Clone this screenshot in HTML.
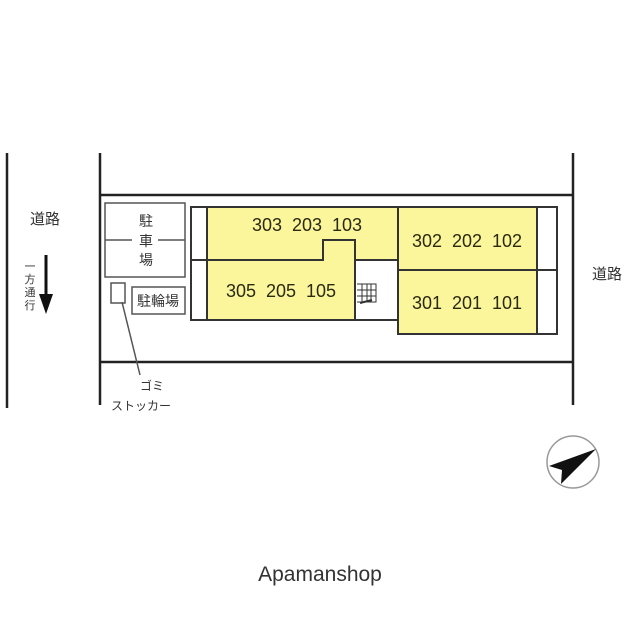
<!DOCTYPE html>
<html><head><meta charset="utf-8"><style>
body{margin:0;background:#fff}
svg{display:block}
text{font-family:"Liberation Sans","Noto Sans CJK JP",sans-serif}
</style></head><body>
<svg width="640" height="640" viewBox="0 0 640 640" xmlns="http://www.w3.org/2000/svg">
<g stroke="#222" stroke-width="2.5" fill="none">
<line x1="7" y1="153" x2="7" y2="408"/>
<line x1="100" y1="153" x2="100" y2="405"/>
<line x1="573" y1="153" x2="573" y2="405"/>
<line x1="100" y1="195" x2="573" y2="195"/>
<line x1="100" y1="362" x2="573" y2="362"/>
</g>
<g stroke="#555" stroke-width="1.5" fill="none">
<rect x="105" y="203" width="80" height="74"/>
<line x1="105" y1="240" x2="132" y2="240"/><line x1="158" y1="240" x2="185" y2="240"/>
<rect x="132" y="287" width="53" height="27"/>
<rect x="111" y="283" width="14" height="20"/>
<line x1="122" y1="302" x2="140" y2="375"/>
</g>
<g stroke="#333" stroke-width="2">
<rect x="191" y="207" width="16" height="113" fill="#fff"/>
<rect x="355" y="260" width="43" height="60" fill="#fff"/>
<rect x="537" y="207" width="20" height="127" fill="#fff"/>
<path d="M207 207H398V260H355V240H323V260H207Z" fill="#fbf59c"/>
<path d="M207 260H323V240H355V320H207Z" fill="#fbf59c"/>
<rect x="398" y="207" width="139" height="63" fill="#fbf59c"/>
<rect x="398" y="270" width="139" height="64" fill="#fbf59c"/>
<line x1="191" y1="260" x2="207" y2="260"/>
<line x1="537" y1="270" x2="557" y2="270"/>
</g>
<g stroke="#333" stroke-width="1" fill="none">
<path d="M357 284H376V302H357M357 290H376M357 296H376M362 284V302M367 284V302M371 284V302"/>
<path d="M360 303L372 300" stroke-width="2"/>
</g>
<g font-size="18" fill="#2a2a10" text-anchor="middle" word-spacing="5">
<text x="307" y="231">303 203 103</text>
<text x="281" y="297">305 205 105</text>
<text x="467" y="247">302 202 102</text>
<text x="467" y="309">301 201 101</text>
</g>
<g font-size="14" fill="#333" text-anchor="middle">
<text x="146" y="226">駐</text><text x="146" y="246">車</text><text x="146" y="265">場</text>
<text x="158" y="306">駐輪場</text>
<text x="45" y="224" font-size="15">道路</text>
<text x="607" y="279" font-size="15">道路</text>
<text x="152" y="390" font-size="12">ゴミ</text>
<text x="141" y="410" font-size="12">ストッカー</text>
<g font-size="11"><text x="30" y="270">一</text><text x="30" y="283">方</text><text x="30" y="296">通</text><text x="30" y="309">行</text></g>
</g>
<line x1="46" y1="255" x2="46" y2="298" stroke="#111" stroke-width="3"/>
<path d="M39 294L53 294L46 314Z" fill="#111"/>
<circle cx="573" cy="462" r="26" fill="none" stroke="#999" stroke-width="1.5"/>
<path d="M549 466L596 449L561 484L562 470Z" fill="#111"/>
<text x="320" y="581" font-size="21" fill="#333" text-anchor="middle">Apamanshop</text>
</svg>
</body></html>
